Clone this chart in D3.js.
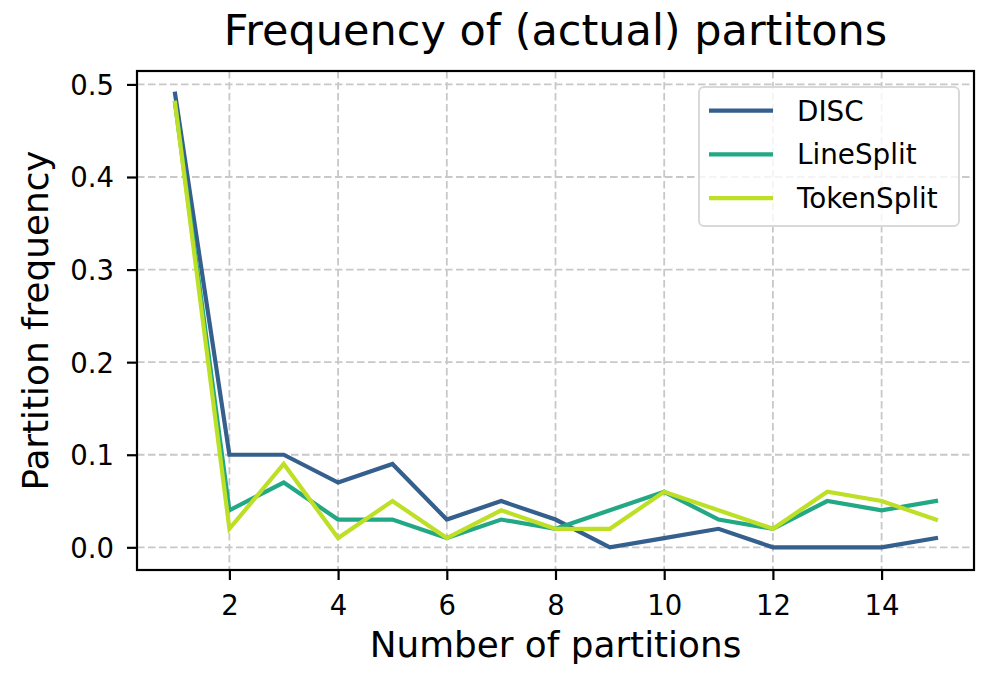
<!DOCTYPE html>
<html>
<head>
<meta charset="utf-8">
<script src="https://cdn.jsdelivr.net/npm/d3@7"></script>
<style>
  html, body { margin: 0; padding: 0; background: #fff; }
  svg { display: block; font-family: "DejaVu Sans", sans-serif; }
</style>
</head>
<body>
<svg id="chart" width="996" height="689"></svg>
<script>
const partitions = [1, 2, 3, 4, 5, 6, 7, 8, 9, 10, 11, 12, 13, 14, 15];
const discValues = [0.49, 0.10, 0.10, 0.07, 0.09, 0.03, 0.05, 0.03, 0.00, 0.01, 0.02, 0.00, 0.00, 0.00, 0.01];
const lineSplitValues = [0.48, 0.04, 0.07, 0.03, 0.03, 0.01, 0.03, 0.02, 0.04, 0.06, 0.03, 0.02, 0.05, 0.04, 0.05];
const tokenSplitValues = [0.48, 0.02, 0.09, 0.01, 0.05, 0.01, 0.04, 0.02, 0.02, 0.06, 0.04, 0.02, 0.06, 0.05, 0.03];
const seriesNames = ["DISC", "LineSplit", "TokenSplit"];
const seriesColors = ["#355f8d", "#22a884", "#bddf26"];
const xTicks = [2, 4, 6, 8, 10, 12, 14];
const yTicks = [0.0, 0.1, 0.2, 0.3, 0.4, 0.5];
const titleText = "Frequency of (actual) partitons";
const xLabel = "Number of partitions";
const yLabel = "Partition frequency";

const series = [discValues, lineSplitValues, tokenSplitValues].map((vals, i) => ({
  name: seriesNames[i], color: seriesColors[i],
  points: partitions.map((p, j) => ({ x: p, y: vals[j] }))
}));

const svg = d3.select("#chart");
const L = 137, R = 974, T = 71, B = 570;

const xMin = d3.min(partitions), xMax = d3.max(partitions);
const xPad = (xMax - xMin) * 0.05;
const x = d3.scaleLinear().domain([xMin - xPad, xMax + xPad]).range([L, R]);
const allY = [].concat(discValues, lineSplitValues, tokenSplitValues);
const yMin = d3.min(allY), yMax = d3.max(allY);
const yPad = (yMax - yMin) * 0.05;
const y = d3.scaleLinear().domain([yMin - yPad, yMax + yPad]).range([B, T]);

// grid
const grid = svg.append("g");
grid.selectAll(".gx").data(xTicks).enter().append("line")
  .attr("x1", d => x(d)).attr("x2", d => x(d)).attr("y1", T).attr("y2", B)
  .attr("stroke", "#c8c8c8").attr("stroke-width", 1.8).attr("stroke-dasharray", "7.5,3.5");
grid.selectAll(".gy").data(yTicks).enter().append("line")
  .attr("x1", L).attr("x2", R).attr("y1", d => y(d)).attr("y2", d => y(d))
  .attr("stroke", "#c8c8c8").attr("stroke-width", 1.8).attr("stroke-dasharray", "7.5,3.5");

// lines
const line = d3.line().x(d => x(d.x)).y(d => y(d.y));
svg.append("g").selectAll("path").data(series).enter().append("path")
  .attr("d", d => line(d.points))
  .attr("fill", "none").attr("stroke", d => d.color)
  .attr("stroke-width", 4.2).attr("stroke-linejoin", "miter").attr("stroke-linecap", "square");

// axes
const xAxis = d3.axisBottom(x).tickValues(xTicks).tickSize(10).tickPadding(8).tickFormat(d3.format("d"));
const gx = svg.append("g").attr("transform", `translate(0,${B})`).call(xAxis);
gx.select(".domain").remove();
gx.selectAll(".tick line").attr("stroke", "#000").attr("stroke-width", 2.2);
gx.selectAll(".tick text").attr("font-size", 27.5).attr("fill", "#000")
  .attr("font-family", "DejaVu Sans").attr("dy", null).attr("y", 45);

const yAxis = d3.axisLeft(y).tickValues(yTicks).tickSize(10).tickPadding(13).tickFormat(d3.format(".1f"));
const gy = svg.append("g").attr("transform", `translate(${L},0)`).call(yAxis);
gy.select(".domain").remove();
gy.selectAll(".tick line").attr("stroke", "#000").attr("stroke-width", 2.2);
gy.selectAll(".tick text").attr("font-size", 27.5).attr("fill", "#000")
  .attr("font-family", "DejaVu Sans").attr("dy", "0.36em");

// frame
svg.append("rect").attr("x", L).attr("y", T).attr("width", R - L).attr("height", B - T)
  .attr("fill", "none").attr("stroke", "#000").attr("stroke-width", 2.2);

// title and labels
svg.append("text").attr("x", (L + R) / 2).attr("y", 45).attr("text-anchor", "middle")
  .attr("font-size", 43).text(titleText);
svg.append("text").attr("x", (L + R) / 2).attr("y", 657).attr("text-anchor", "middle")
  .attr("font-size", 35.8).text(xLabel);
svg.append("text").attr("transform", `translate(48,${(T + B) / 2}) rotate(-90)`)
  .attr("text-anchor", "middle").attr("font-size", 35.8).text(yLabel);

// legend
const lg = svg.append("g");
lg.append("rect").attr("x", 699).attr("y", 87).attr("width", 260).attr("height", 139)
  .attr("rx", 5).attr("fill", "#fff").attr("fill-opacity", 0.8)
  .attr("stroke", "#d9d9d9").attr("stroke-width", 2);
const items = lg.selectAll(".item").data(series).enter().append("g")
  .attr("transform", (d, i) => `translate(0,${110.7 + i * 43.7})`);
items.append("line").attr("x1", 709).attr("x2", 773).attr("y1", 0).attr("y2", 0)
  .attr("stroke", d => d.color).attr("stroke-width", 4.2);
items.append("text").attr("x", 797).attr("y", 0).attr("dy", "0.36em")
  .attr("font-size", 27.8).text(d => d.name);
</script>
</body>
</html>
